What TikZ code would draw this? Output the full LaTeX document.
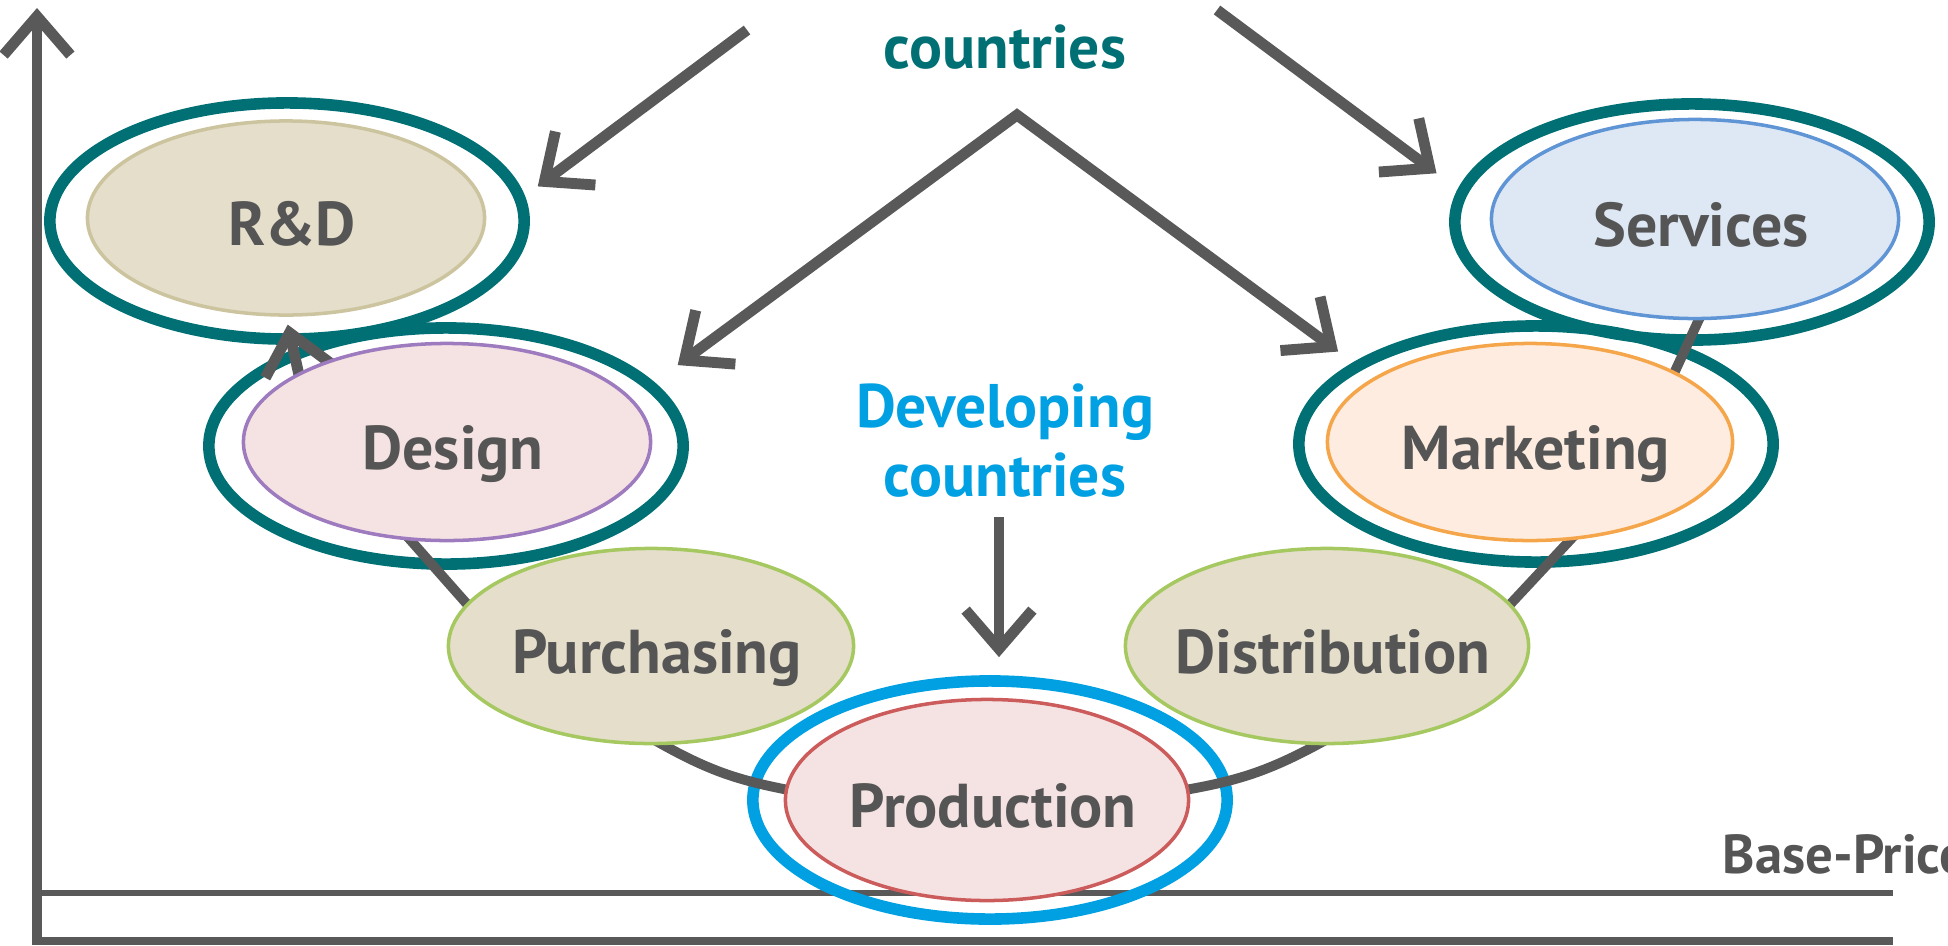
\documentclass[tikz,border=0pt]{standalone}
\usepackage{fontspec}
\setmainfont{PT Sans}
\usetikzlibrary{shapes.geometric,arrows.meta}

\definecolor{axisgray}{RGB}{89,89,89}
\definecolor{labelgray}{RGB}{85,85,85}
\definecolor{ringteal}{RGB}{0,112,116}
\definecolor{ringblue}{RGB}{0,160,226}
\definecolor{sandfill}{RGB}{228,222,202}
\definecolor{sandline}{RGB}{204,196,158}
\definecolor{pinkfill}{RGB}{244,227,226}
\definecolor{purpleline}{RGB}{158,123,190}
\definecolor{greenline}{RGB}{166,200,96}
\definecolor{redline}{RGB}{204,92,92}
\definecolor{peachfill}{RGB}{253,236,223}
\definecolor{orangeline}{RGB}{245,165,74}
\definecolor{skyfill}{RGB}{222,232,245}
\definecolor{skyline}{RGB}{95,149,213}

% stage caption: zero-width box so the ellipse keeps its own size
\newcommand\stagelabel[1]{\makebox[0pt]{\kern3.4pt #1}}

\pgfdeclarelayer{back}
\pgfdeclarelayer{mid}
\pgfsetlayers{back,mid,main}

\tikzset{
  barbtip/.tip={Straight Barb[length=11pt,width=19pt,line cap=butt,line join=miter]},
  stage/.style={ellipse, inner sep=0pt, line width=1pt, text=labelgray,
    font=\fontsize{17.6}{21}\selectfont\bfseries, text height=15.5pt, text depth=0pt},
  ring/.style={ellipse, inner sep=0pt, line width=3.3pt,
    minimum width=4.74cm, minimum height=2.36cm},
  barb/.style={draw=axisgray, line width=3.1pt, line join=miter, -barbtip},
  chain/.style={draw=axisgray, line width=2.8pt, shorten <=-6pt, shorten >=-6pt},
  region/.style={font=\fontsize{17.5}{19.6}\selectfont\bfseries, align=center,
    inner sep=0pt, anchor=base},
}

\begin{document}
\begin{tikzpicture}[x=0.01cm,y=-0.01cm]
\useasboundingbox (0,0) rectangle (1948,945);
\clip (0,0) rectangle (1948,945);

% axes, price lines and the outer rings
\begin{pgfonlayer}{back}
  \draw[barb] (37,945) -- (37,8);
  \draw[axisgray, line width=1.5pt] (37,893) -- (1893,893);
  \draw[axisgray, line width=2pt] (37,941) -- (1893,941);
  \node[ring, draw=ringteal] (rdring) at (287,221) {};
  \node[ring, draw=ringteal] (dsring) at (446,446) {};
  \node[ring, draw=ringblue, minimum height=2.38cm] (prring) at (990,800) {};
  \node[ring, draw=ringteal] (mkring) at (1536,444) {};
  \node[ring, draw=ringteal] (svring) at (1692,222) {};
\end{pgfonlayer}

% value-chain stages
\node[stage, fill=sandfill, draw=sandline, minimum width=3.97cm, minimum height=1.94cm]
  (rd) at (286,218) {\stagelabel{R\&D}};
\node[stage, fill=pinkfill, draw=purpleline, minimum width=4.07cm, minimum height=1.97cm]
  (ds) at (447,442) {\stagelabel{Design}};
\node[stage, fill=sandfill, draw=greenline, minimum width=4.05cm, minimum height=1.95cm]
  (pu) at (651,646) {\stagelabel{Purchasing}};
\node[stage, fill=pinkfill, draw=redline, minimum width=4.03cm, minimum height=2.01cm]
  (pr) at (987,800) {\stagelabel{Production}};
\node[stage, fill=sandfill, draw=greenline, minimum width=4.03cm, minimum height=1.95cm]
  (di) at (1327,646) {\stagelabel{Distribution}};
\node[stage, fill=peachfill, draw=orangeline, minimum width=4.05cm, minimum height=1.97cm]
  (mk) at (1530,442) {\stagelabel{Marketing}};
\node[stage, fill=skyfill, draw=skyline, minimum width=4.07cm, minimum height=1.99cm]
  (sv) at (1695,219) {\stagelabel{Services}};

% the U-shaped chain running behind the stages
\begin{pgfonlayer}{mid}
  \draw[barb, shorten <=-6pt, shorten >=0.08cm] (ds.155) -- (rd.south);
  \draw[chain] (ds.250) -- (pu.167);
  \draw[chain] (pu.277) to[bend right=10] (pr.177);
  \draw[chain] (pr.3) to[bend right=10] (di.264);
  \draw[chain] (di.13) -- (mk.292);
  \draw[chain] (mk.26) -- (sv.272);
\end{pgfonlayer}

% country groups (the base anchor sits on the last line)
\node[region, text=ringteal] (dvd) at (1005,68) {Developed\\[4pt]countries};
\node[region, text=ringblue] (dvg) at (1005,496) {Developing\\countries};
\node[font=\fontsize{15.6}{18}\selectfont\bfseries, text=labelgray, anchor=base west,
  inner sep=0pt] (bp) at (1722,873) {Base-Price};

% arrows from the country groups
\coordinate (tl) at (747,30);
\coordinate (tr) at (1217,10);
\coordinate (apex) at (1017,115);
\coordinate (dvsrc) at (999,517);
\draw[barb, shorten >=0.16cm] (tl) -- (rdring.6);
\draw[barb, shorten >=0.265cm] (tr) -- (svring.172);
\draw[barb, barbtip-barbtip, shorten <=0.29cm, shorten >=0.185cm]
  (dsring.17) -- (apex) -- (mkring.156);
\draw[barb, shorten >=0.18cm] (dvsrc) -- (dvsrc |- prring.north);
\end{tikzpicture}
\end{document}
